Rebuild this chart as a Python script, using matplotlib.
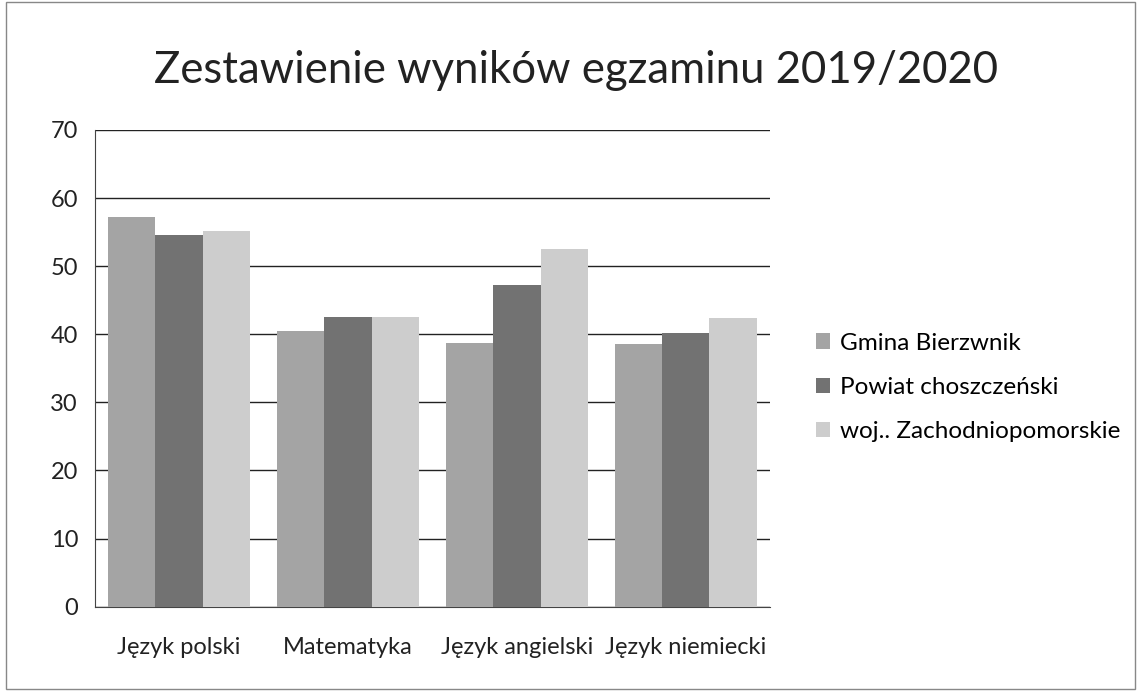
import matplotlib.pyplot as plt
import numpy as np

plt.rcParams['font.family'] = ['Lato', 'DejaVu Sans']

subjects = ["Język polski", "Matematyka", "Język angielski", "Język niemiecki"]
gmina = [57.2, 40.5, 38.7, 38.6]
powiat = [54.5, 42.5, 47.3, 40.2]
woj = [55.2, 42.6, 52.5, 42.4]
series_names = ["Gmina Bierzwnik", "Powiat choszczeński", "woj.. Zachodniopomorskie"]
colors = ["#a4a4a4", "#727272", "#cdcdcd"]

fig = plt.figure(figsize=(11.41, 6.91), dpi=100)
ax = fig.add_axes([0.083, 0.122, 0.592, 0.690])

x = np.arange(len(subjects))
w = 0.28
for i, (vals, name, c) in enumerate(zip([gmina, powiat, woj], series_names, colors)):
    ax.bar(x + (i - 1) * w, vals, w, color=c, label=name, zorder=3)

ax.set_ylim(0, 70)
ax.set_xlim(-0.5, len(subjects) - 0.5)
ax.set_yticks(range(0, 71, 10))
ax.set_xticks(x)
ax.set_xticklabels(subjects)
ax.tick_params(axis='both', labelsize=17, length=0, colors='#222222')
ax.tick_params(axis='y', pad=12)
ax.tick_params(axis='x', pad=22)
ax.yaxis.grid(True, color='#222222', linewidth=1.0, zorder=0)
for s in ['top', 'right']:
    ax.spines[s].set_visible(False)
ax.spines['left'].set_color('#444444')
ax.spines['bottom'].set_color('#444444')

fig.text(0.505, 0.898, "Zestawienie wyników egzaminu 2019/2020", ha='center', va='center',
         fontsize=31.5, color='#222222')

ax.legend(loc='center left', bbox_to_anchor=(1.035, 0.46), frameon=False, fontsize=17.5,
          handlelength=0.6, handleheight=0.6, handletextpad=0.4, labelspacing=0.95)

# outer chart border
fig.patches.append(plt.Rectangle((0.005, 0.003), 0.99, 0.994, transform=fig.transFigure,
                                 fill=False, edgecolor='#888888', linewidth=1))

fig.savefig("out.png", dpi=100)
